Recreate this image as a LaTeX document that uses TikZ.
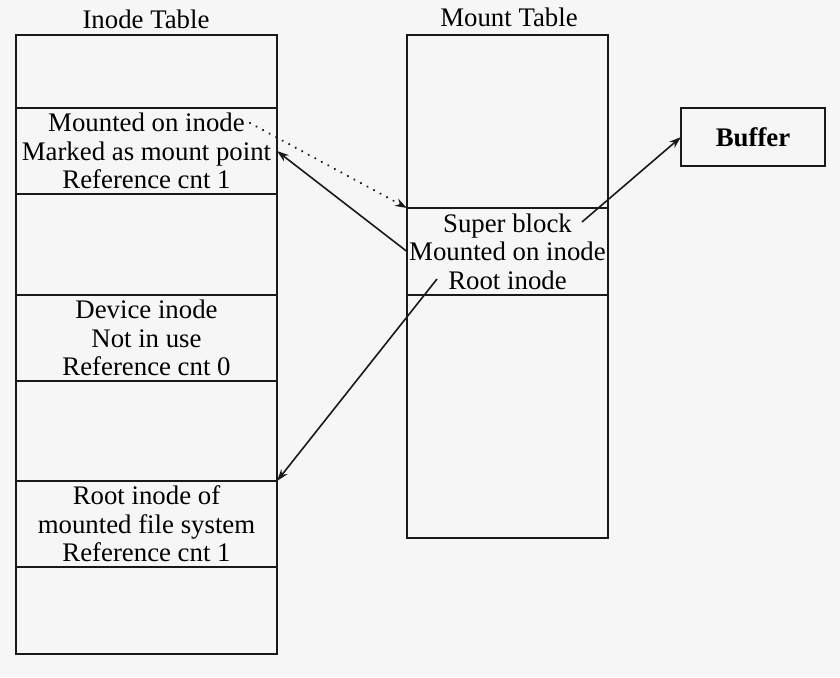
\documentclass[tikz,border=0pt]{standalone}
\usepackage{fontspec}
\setmainfont{Liberation Serif}
\usepackage{tikz}
\usetikzlibrary{arrows.meta,calc,backgrounds}
\newcommand{\inkcolor}{black!90}
\newcommand{\rulewidth}{1.1pt}
\newcommand{\arrowwidth}{0.8pt}
\newcommand{\inodewidth}{261}
\newcommand{\mountwidth}{201}
\definecolor{paper}{RGB}{246,246,246}
\tikzset{
  slot/.style={draw=\inkcolor, line width=\rulewidth, inner sep=0pt, outer sep=0pt,
    align=center, font=\fontsize{13.4}{14.3}\selectfont, minimum height=0.5pt*#1},
  inoderow/.style={slot=#1, minimum width=0.5pt*\inodewidth},
  mountrow/.style={slot=#1, minimum width=0.5pt*\mountwidth},
  tabletitle/.style={font=\fontsize{13.4}{14.3}\selectfont, inner sep=0pt},
  link/.style={draw=\inkcolor, line width=\arrowwidth, -{Stealth[length=6pt,width=4pt]}},
  dotlink/.style={link, line width=1.2pt, line cap=round, dash pattern=on 0.01pt off 3.7pt}
}

\begin{document}
\begin{tikzpicture}[x=0.5pt, y=-0.5pt]
\fill[paper] (0,0) rectangle (840,677);
\useasboundingbox (0,0) rectangle (840,677);
%inode table
\node[tabletitle] (ititle) at (146, 19) {Inode Table};
\node[inoderow=73] (it1) at (146.5, 71.5) {};
\node[inoderow=86] (it2) at (146.5, 151) {Mounted on inode\\Marked as mount point\\Reference cnt 1};
\node[inoderow=101] (it3) at (146.5, 244.5) {};
\node[inoderow=86] (it4) at (146.5, 338) {Device inode\\Not in use\\Reference cnt 0};
\node[inoderow=100] (it5) at (146.5, 431) {};
\node[inoderow=86] (it6) at (146.5, 524) {Root inode of\\mounted file system\\Reference cnt 1};
\node[inoderow=87] (it7) at (146.5, 610.5) {};
%mount table
\node[tabletitle] (mtitle) at (509, 17) {Mount Table};
\node[mountrow=173] (mt1) at (507.5, 121.5) {};
\node[mountrow=87] (mt2) at (507.5, 251.5) {Super block\\Mounted on inode\\Root inode};
\node[mountrow=243] (mt3) at (507.5, 416.5) {};
%buffer
\node[slot=58, minimum width=0.5pt*144, font=\fontsize{13.4}{14.3}\selectfont\bfseries] (buf) at (753, 137) {Buffer};
%links
\coordinate (mntfield) at (250, 123);
\coordinate (sbfield) at (582, 222);
\coordinate (rootfield) at (437, 279);
\draw[dotlink] (mntfield) -- (mt2.north west);
\draw[link] (mt2.west) -- (it2.east);
\draw[link] (rootfield) -- (it6.north east);
\draw[link] (sbfield) -- (buf.west);
\end{tikzpicture}
\end{document}
